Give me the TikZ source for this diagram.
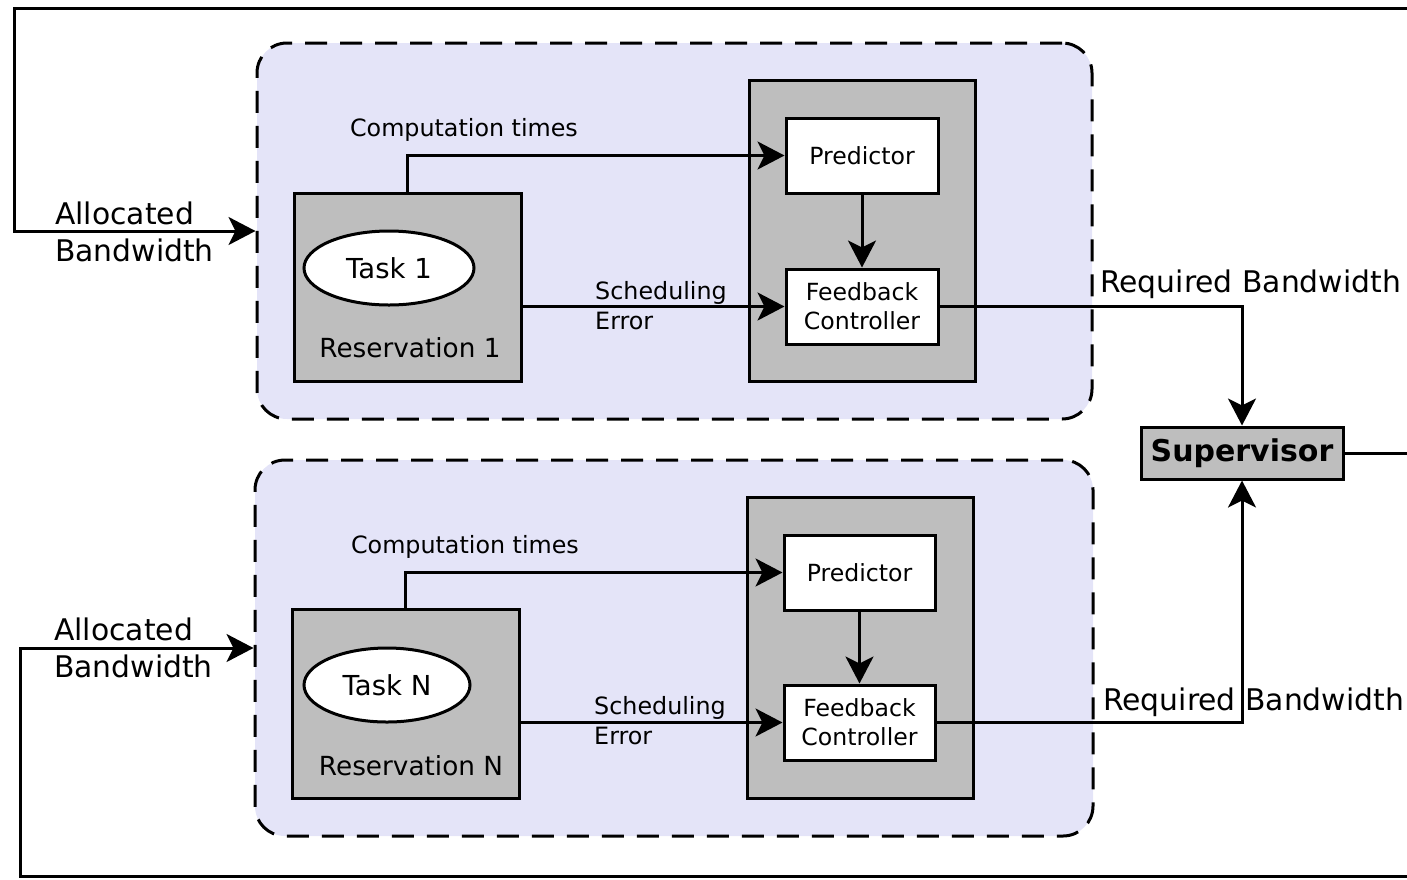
\documentclass[tikz,border=0pt]{standalone}
\usepackage{fontspec}
\setmainfont{DejaVu Sans}
\usetikzlibrary{arrows.meta,shapes.geometric}
\definecolor{lav}{RGB}{228,228,248}
\definecolor{boxgray}{RGB}{190,190,190}
\newcommand{\fsz}[2]{\fontsize{#1}{#2}\selectfont}
\tikzset{
  grp/.style={draw, line width=3pt, dash pattern=on 22pt off 13pt, fill=lav, rounded corners=30pt, inner sep=0pt},
  graybox/.style={draw, line width=3pt, fill=boxgray, inner sep=0pt},
  whitebox/.style={draw, line width=3pt, fill=white, inner sep=0pt, align=center, font=\fsz{23.6}{29}},
  taskell/.style={draw, line width=3pt, fill=white, ellipse, inner sep=0pt, font=\fsz{27.5}{33}},
  conn/.style={line width=3pt},
  arr/.style={line width=3pt, -{Stealth[length=27pt, width=28pt, inset=7pt]}},
  biglbl/.style={inner sep=0pt, align=left, font=\fsz{29.8}{37}},
  smlbl/.style={inner sep=0pt, align=left, font=\fsz{23.8}{30}},
  reslbl/.style={inner sep=0pt, font=\fsz{26.3}{32}},
}
\begin{document}
\begin{tikzpicture}[x=1pt, y=-1pt]
\useasboundingbox (0,0) rectangle (1407,879);

% group 1
\node[grp, minimum width=835pt, minimum height=376pt] (g1) at (674.5,231) {};
\node[graybox, minimum width=227pt, minimum height=188pt] (res1) at (407.5,287) {};
\node[taskell, minimum width=170pt, minimum height=74pt] (task1) at (389,268) {Task 1};
\node[reslbl] (rl1) at (410,348) {Reservation 1};
\node[graybox, minimum width=226pt, minimum height=301pt] (ctrl1) at (862,230.5) {};
\node[whitebox, minimum width=152pt, minimum height=75pt] (pred1) at (862,155.5) {Predictor};
\node[whitebox, minimum width=152pt, minimum height=75pt] (fb1) at (862,306.5) {Feedback\\Controller};
\node[smlbl] (ct1) at (464,130) {Computation times};
\node[smlbl, anchor=west] (se1) at (595,306) {Scheduling\\Error};

% group 2
\node[grp, minimum width=838pt, minimum height=376pt] (g2) at (674,648) {};
\node[graybox, minimum width=227pt, minimum height=189pt] (res2) at (405.5,703.5) {};
\node[taskell, minimum width=166pt, minimum height=74pt] (task2) at (387,685) {Task N};
\node[reslbl] (rl2) at (411,766) {Reservation N};
\node[graybox, minimum width=226pt, minimum height=301pt] (ctrl2) at (860,647.5) {};
\node[whitebox, minimum width=151pt, minimum height=75pt] (pred2) at (859.5,572.5) {Predictor};
\node[whitebox, minimum width=151pt, minimum height=75pt] (fb2) at (859.5,722.5) {Feedback\\Controller};
\node[smlbl] (ct2) at (465,547) {Computation times};
\node[smlbl, anchor=west] (se2) at (594,721) {Scheduling\\Error};

% supervisor
\node[graybox, minimum width=202pt, minimum height=52pt, font=\bfseries\fsz{30}{36}] (sup) at (1242,453) {Supervisor};

% labels
\node[biglbl, anchor=west] (al1) at (55,231.5) {Allocated\\Bandwidth};
\node[biglbl, anchor=west] (al2) at (54,647.5) {Allocated\\Bandwidth};
\node[biglbl, anchor=west] (rb1) at (1100,284) {Required Bandwidth};
\node[biglbl, anchor=west] (rb2) at (1103,702) {Required Bandwidth};

% free ends
\coordinate (topR) at (1420,8);
\coordinate (topL) at (14,8);
\coordinate (botR) at (1420,876);
\coordinate (botL) at (20,876);
\coordinate (supR) at (1420,453);

% connectors group 1
\draw[arr] (res1.north) |- (pred1.west);
\draw[arr] (res1.east |- fb1) -- (fb1.west);
\draw[arr] (pred1.south) -- (fb1.north);
\draw[arr] (fb1.east) -| (sup.north);
% connectors group 2
\draw[arr] (res2.north) |- (pred2.west);
\draw[arr] (res2.east |- fb2) -- (fb2.west);
\draw[arr] (pred2.south) -- (fb2.north);
\draw[arr] (fb2.east) -| (sup.south);
% feedback loops
\draw[arr] (topR) -- (topL) |- (g1.west);
\draw[arr] (botR) -- (botL) |- (g2.west);
\draw[conn] (sup.east) -- (supR);
\end{tikzpicture}
\end{document}
